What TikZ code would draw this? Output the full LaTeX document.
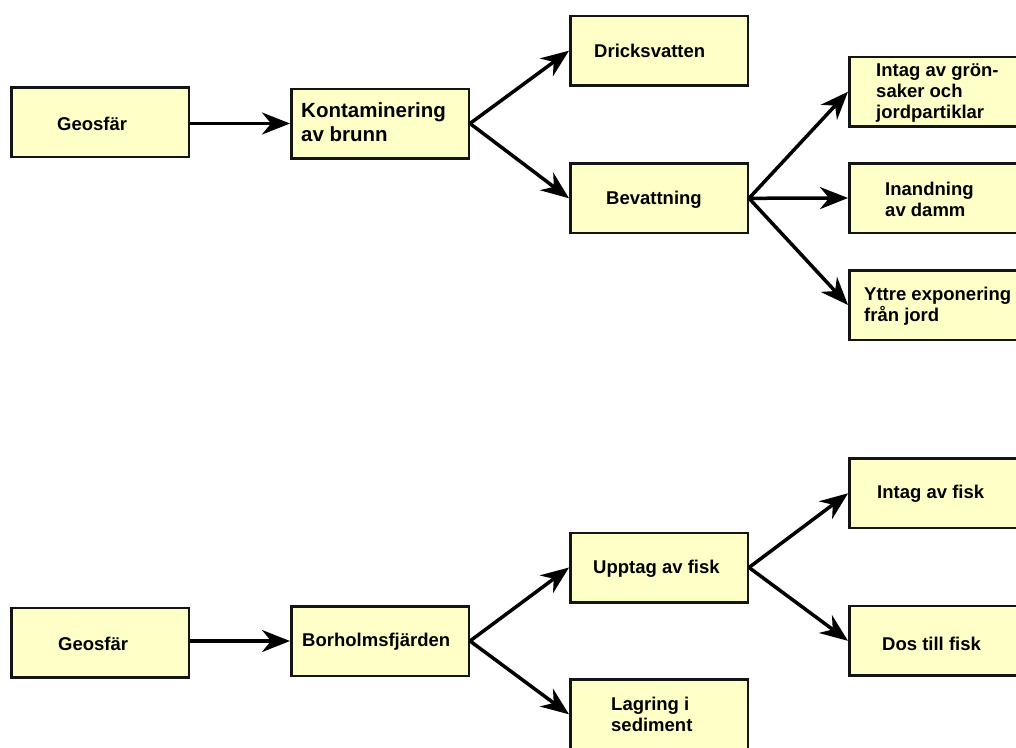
\documentclass[tikz,border=0pt]{standalone}
\usepackage{fontspec}
\setmainfont{Liberation Sans}
\usetikzlibrary{arrows.meta}
\definecolor{boxfill}{HTML}{FFFFC8}
\definecolor{boxline}{HTML}{141414}
\begin{document}
\begin{tikzpicture}[x=1pt,y=-1pt,
  stagebox/.style={draw=boxline,fill=boxfill,line width=2.5pt,
    minimum width=177.5pt,minimum height=69.5pt,inner sep=0pt},
  lbl/.style={anchor=base west,inner sep=0pt,align=left,
    font=\bfseries\fontsize{18.5pt}{21pt}\selectfont},
  biglbl/.style={lbl,font=\bfseries\fontsize{20.5pt}{24pt}\selectfont},
  flow/.style={line width=3.5pt,draw=black,
    -{Stealth[length=28pt,width=22pt,inset=9pt]}}]
\useasboundingbox (0,0) rectangle (1016,747);

% upper chain: geosphere -> contaminated well -> uses
\node[stagebox] (geoA) at (100,122) {};
\node[stagebox] (brunn) at (380,123.5) {};
\node[stagebox] (dricks) at (659,50.7) {};
\node[stagebox] (bevatt) at (659,198.3) {};
\node[stagebox] (gron) at (938,91.7) {};
\node[stagebox] (damm) at (938,198) {};
\node[stagebox] (yttre) at (938,305) {};

% label positions give the baseline of the last line
\node[lbl] (tgeoA) at (57,130) {Geosfär};
\node[biglbl] (tbrunn) at (301,141.7) {Kontaminering\\av brunn};
\node[lbl] (tdricks) at (594,57.3) {Dricksvatten};
\node[lbl] (tbevatt) at (606,204) {Bevattning};
\node[lbl] (tgron) at (876,118.5) {Intag av grön-\\saker och\\jordpartiklar};
\node[lbl] (tdamm) at (885,216.7) {Inandning\\av damm};
\node[lbl] (tyttre) at (864,321.7) {Yttre exponering\\från jord};

\draw[flow] (geoA.east |- brunn.west) -- (brunn.west);
\draw[flow] (brunn.east) -- (dricks.west);
\draw[flow] (brunn.east) -- (bevatt.west);
\draw[flow] (bevatt.east) -- (gron.west);
\draw[flow] (bevatt.east) -- (damm.west);
\draw[flow] (bevatt.east) -- (yttre.west);

% lower chain: geosphere -> Borholmsfjärden -> fish and sediment
\node[stagebox] (geoB) at (100,642.5) {};
\node[stagebox] (fjard) at (380,641) {};
\node[stagebox] (upptag) at (659,567.5) {};
\node[stagebox] (lagring) at (659,714.3) {};
\node[stagebox] (intag) at (938,493.3) {};
\node[stagebox] (dos) at (938,640.8) {};

\node[lbl] (tgeoB) at (58,650) {Geosfär};
\node[lbl] (tfjard) at (302,646.5) {Borholmsfjärden};
\node[lbl] (tupptag) at (593,573) {Upptag av fisk};
\node[lbl] (tlagring) at (611,731.7) {Lagring i\\sediment};
\node[lbl] (tintag) at (877,498) {Intag av fisk};
\node[lbl] (tdos) at (882,650) {Dos till fisk};

\draw[flow] (geoB.east |- fjard.west) -- (fjard.west);
\draw[flow] (fjard.east) -- (upptag.west);
\draw[flow] (fjard.east) -- (lagring.west);
\draw[flow] (upptag.east) -- (intag.west);
\draw[flow] (upptag.east) -- (dos.west);
\end{tikzpicture}
\end{document}
